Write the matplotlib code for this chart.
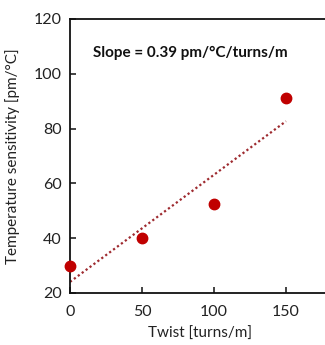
import numpy as np
import matplotlib
matplotlib.use("Agg")
import matplotlib.pyplot as plt

twist = [0, 50, 100, 150]
sensitivity = [30, 40, 52.5, 91]
xticks = [0, 50, 100, 150]
yticks = [20, 40, 60, 80, 100, 120]

plt.rcParams['font.family'] = ['Lato', 'DejaVu Sans']

fig = plt.figure(figsize=(3.25, 3.45), dpi=100)
ax = fig.add_axes([70/325, 52/345, 288/325, 274/345])

slope, intercept = np.polyfit(twist, sensitivity, 1)
xs = np.array([twist[0], twist[-1]])
ax.plot(xs, slope*xs + intercept, linestyle=(0, (1, 1.2)), color='#9e2a2f', linewidth=1.6)
ax.plot(twist, sensitivity, 'o', color='#c00000', markersize=7.5, clip_on=False, zorder=5)

ax.set_xlim(0, 200)
ax.set_ylim(20, 120)
ax.set_xticks(xticks)
ax.set_yticks(yticks)
ax.tick_params(direction='in', length=4, width=1.2, labelsize=11.5, pad=6, colors='#222222')
ax.tick_params(axis='x', pad=9)
for s in ['left', 'bottom', 'top']:
    ax.spines[s].set_linewidth(1.3)
    ax.spines[s].set_color('#111111')
ax.spines['right'].set_visible(False)

ax.set_xlabel('Twist [turns/m]', fontsize=11, color='#222222', va='center')
ax.xaxis.set_label_coords(130/288, -41/274)
ax.set_ylabel('Temperature sensitivity [pm/°C]', fontsize=11, color='#222222')
ax.yaxis.set_label_coords(-50/288, 0.5)

ax.text(23/288, 0.875, 'Slope = 0.39 pm/°C/turns/m', transform=ax.transAxes,
        fontsize=11, fontweight='bold', ha='left', va='center', color='#111111')

fig.savefig('out.png', dpi=100)
